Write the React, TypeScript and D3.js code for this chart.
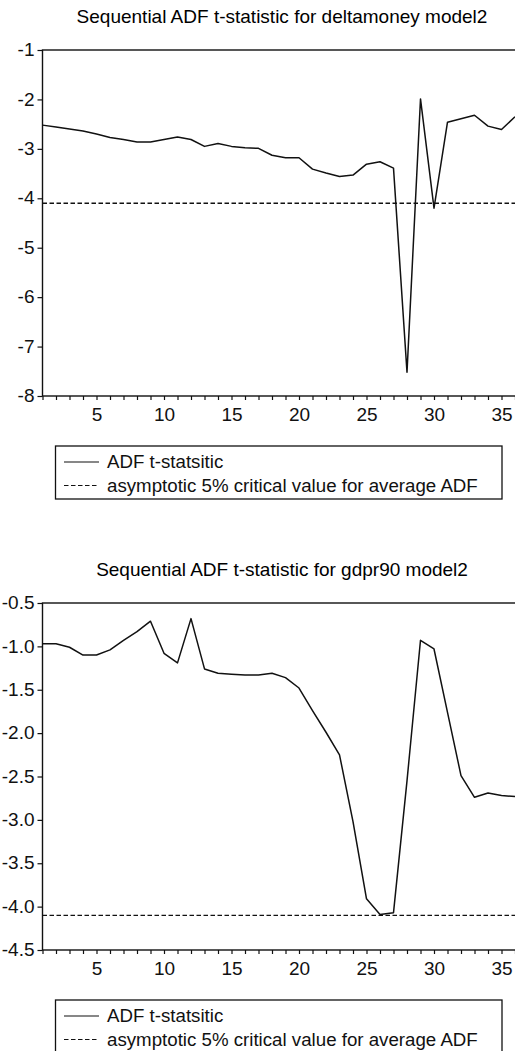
import React, { useEffect, useRef } from 'react'
import * as d3 from 'd3'

// sample periods (x axis)
const periods = [1, 2, 3, 4, 5, 6, 7, 8, 9, 10, 11, 12, 13, 14, 15, 16, 17, 18,
  19, 20, 21, 22, 23, 24, 25, 26, 27, 28, 29, 30, 31, 32, 33, 34, 35, 36]

// ADF t-statistic, deltamoney model2
const deltamoneyAdf = [-2.52, -2.56, -2.60, -2.64, -2.70, -2.77, -2.81, -2.86, -2.86, -2.81,
  -2.76, -2.81, -2.95, -2.89, -2.95, -2.98, -2.99, -3.13, -3.18, -3.18,
  -3.41, -3.49, -3.56, -3.53, -3.31, -3.26, -3.39, -7.52, -1.99, -4.20,
  -2.46, -2.39, -2.32, -2.54, -2.61, -2.35]

// ADF t-statistic, gdpr90 model2
const gdpr90Adf = [-0.97, -0.97, -1.01, -1.10, -1.10, -1.04, -0.93, -0.83, -0.71, -1.08,
  -1.19, -0.68, -1.26, -1.31, -1.32, -1.33, -1.33, -1.31, -1.36, -1.48,
  -1.74, -1.99, -2.25, -3.02, -3.91, -4.09, -4.07, -2.55, -0.93, -1.03,
  -1.76, -2.49, -2.74, -2.69, -2.72, -2.73]

const criticalValue = -4.1

const xTicks = [5, 10, 15, 20, 25, 30, 35]
const deltamoneyYTicks = [-1, -2, -3, -4, -5, -6, -7, -8]
const deltamoneyYLabels = ['-1', '-2', '-3', '-4', '-5', '-6', '-7', '-8']
const gdprYTicks = [-0.5, -1.0, -1.5, -2.0, -2.5, -3.0, -3.5, -4.0, -4.5]
const gdprYLabels = ['-0.5', '-1.0', '-1.5', '-2.0', '-2.5', '-3.0', '-3.5', '-4.0', '-4.5']

const legendLabels = ['ADF t-statsitic', 'asymptotic 5% critical value for average ADF']

const FONT = '"Liberation Sans", Arial, sans-serif'

function drawPanel(root, opts) {
  const { top, title, values, yTicks, yLabels } = opts
  const left = 42.5
  const right = 516
  const plotTop = top + 50
  const plotBottom = top + opts.height

  const g = root.append('g')

  const x = d3.scaleLinear().domain([1, 36]).range([left, 515])
  const y = d3.scaleLinear()
    .domain([yTicks[yTicks.length - 1], yTicks[0]])
    .range([plotBottom, plotTop])

  // title
  g.append('text')
    .attr('x', 282)
    .attr('y', top + 22.5)
    .attr('text-anchor', 'middle')
    .style('font-family', FONT)
    .style('font-size', '19px')
    .text(title)

  // frame
  g.append('rect')
    .attr('x', left)
    .attr('y', plotTop)
    .attr('width', right - left)
    .attr('height', plotBottom - plotTop)
    .attr('fill', 'none')
    .attr('stroke', '#111')
    .attr('stroke-width', 1.4)

  // y axis
  const yAxis = g.append('g')
    .attr('transform', 'translate(' + left + ',0)')
    .call(d3.axisLeft(y)
      .tickValues(yTicks)
      .tickFormat((d, i) => yLabels[i])
      .tickSize(5)
      .tickPadding(3)
      .tickSizeOuter(0))
  yAxis.select('.domain').remove()
  yAxis.selectAll('line').attr('stroke', '#111').attr('stroke-width', 1.2)
  yAxis.selectAll('text')
    .attr('fill', '#111')
    .attr('dy', '0.3em')
    .style('font-family', FONT)
    .style('font-size', '19px')

  // x axis
  const xAxis = g.append('g')
    .attr('transform', 'translate(0,' + plotBottom + ')')
    .call(d3.axisBottom(x)
      .tickValues(periods)
      .tickFormat(d => (xTicks.indexOf(d) >= 0 ? String(d) : ''))
      .tickSize(4)
      .tickPadding(8)
      .tickSizeOuter(0))
  xAxis.select('.domain').remove()
  xAxis.selectAll('line').attr('stroke', '#111').attr('stroke-width', 1.2)
  xAxis.selectAll('text')
    .attr('fill', '#111')
    .style('font-family', FONT)
    .style('font-size', '19px')

  // critical value line
  g.append('line')
    .attr('x1', left)
    .attr('x2', right)
    .attr('y1', y(criticalValue))
    .attr('y2', y(criticalValue))
    .attr('stroke', '#111')
    .attr('stroke-width', 1.3)
    .attr('stroke-dasharray', '4.5,2.5')

  // ADF series
  const line = d3.line()
    .x((d, i) => x(periods[i]))
    .y(d => y(d))
  g.append('path')
    .datum(values)
    .attr('d', line)
    .attr('fill', 'none')
    .attr('stroke', '#111')
    .attr('stroke-width', 1.5)
    .attr('stroke-linejoin', 'round')

  // legend
  const ly = plotBottom + opts.legendGap
  const lg = g.append('g')
  lg.append('rect')
    .attr('x', 55.5)
    .attr('y', ly)
    .attr('width', 446.5)
    .attr('height', 53)
    .attr('fill', 'none')
    .attr('stroke', '#111')
    .attr('stroke-width', 1.3)

  legendLabels.forEach((label, i) => {
    const by = ly + 22 + i * 23.5
    lg.append('line')
      .attr('x1', 64)
      .attr('x2', 99)
      .attr('y1', by - 6)
      .attr('y2', by - 6)
      .attr('stroke', '#111')
      .attr('stroke-width', 1.2)
      .attr('stroke-dasharray', i === 1 ? '4.5,2.5' : null)
    lg.append('text')
      .attr('x', 107)
      .attr('y', by)
      .style('font-family', FONT)
      .style('font-size', '18.7px')
      .attr('fill', '#111')
      .text(label)
  })
}

export default function App() {
  const ref = useRef(null)

  useEffect(() => {
    document.body.style.margin = '0'
    const svg = d3.select(ref.current)
    svg.selectAll('*').remove()

    drawPanel(svg, {
      top: 0,
      height: 396,
      legendGap: 50,
      title: 'Sequential ADF t-statistic for deltamoney model2',
      values: deltamoneyAdf,
      yTicks: deltamoneyYTicks,
      yLabels: deltamoneyYLabels,
    })

    drawPanel(svg, {
      top: 553,
      height: 397,
      legendGap: 50,
      title: 'Sequential ADF t-statistic for gdpr90 model2',
      values: gdpr90Adf,
      yTicks: gdprYTicks,
      yLabels: gdprYLabels,
    })
  }, [])

  return (
    <svg ref={ref} width={515} height={1051} style={{ display: 'block', background: '#fff' }} />
  )
}
